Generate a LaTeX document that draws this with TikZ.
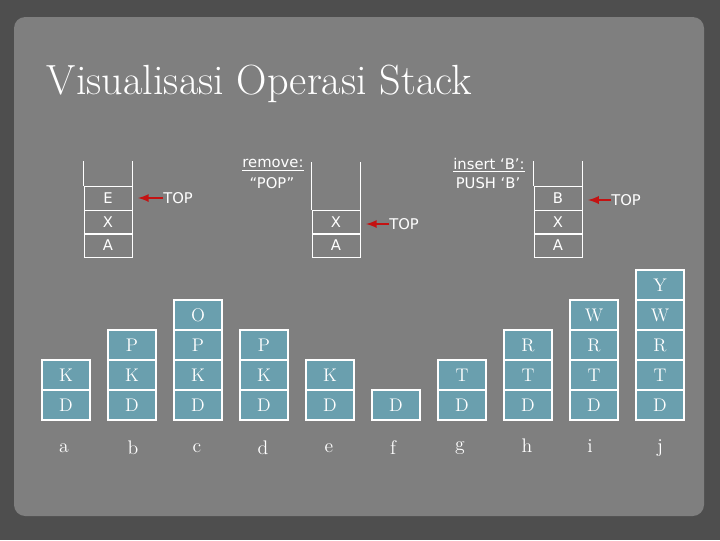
\documentclass[tikz,border=0pt]{standalone}
\usepackage{fontspec}
\usetikzlibrary{arrows}
\usetikzlibrary{shapes}
\newfontfamily\boxfont{DejaVu Sans}
\definecolor{panelGray}{RGB}{127,127,127}
\definecolor{frameGray}{RGB}{78,78,78}
\definecolor{cellTeal}{RGB}{106,159,174}
\definecolor{topRed}{RGB}{196,18,18}

\begin{document}
\begin{tikzpicture}[x = 0.025cm, y = -0.025cm]
	\tikzstyle{emptyCell}=[shape = rectangle, minimum width = 1.2cm, minimum height = 0.6cm, inner sep = 0pt, draw = white, line width = 0.6pt, text = white, font = \boxfont\fontsize{10.5}{12}\selectfont]
	\tikzstyle{fullCell}=[shape = rectangle, minimum width = 1.2cm, minimum height = 0.75cm, inner sep = 0pt, draw = white, fill = cellTeal, line width = 0.9pt, text = white, font = \fontsize{13}{15}\selectfont]
	\tikzstyle{wall}=[draw = white, line width = 0.6pt]
	\tikzstyle{topArrow}=[draw = topRed, line width = 1.6pt, -latex, shorten >= 4pt]
	\tikzstyle{sansText}=[text = white, inner sep = 0pt, font = \boxfont\fontsize{10.5}{12}\selectfont]
	\tikzstyle{stackName}=[text = white, font = \fontsize{14}{16}\selectfont]
	% background
	\useasboundingbox (0,0) rectangle (720,540);
	\fill[frameGray] (0,0) rectangle (720,540);
	\fill[panelGray, rounded corners = 8] (14,17) rectangle (704,516);
	\node[anchor = base west, text = white, font = \fontsize{30}{34}\selectfont] (title) at (42,94) {Visualisasi Operasi Stack};
	% stack before
	\node[emptyCell] (s1e) at (108,198.5) {E};
	\node[emptyCell] (s1x) at (108,222) {X};
	\node[emptyCell] (s1a) at (108,245.5) {A};
	\draw[wall] (s1e.north west) -- ++(0,-25);
	\draw[wall] (s1e.north east) -- ++(0,-25);
	\node[sansText, anchor = west] (top1) at (163,198) {TOP};
	\draw[topArrow] (top1.west) -- (top1.west -| s1e.east);
	% after pop
	\node[sansText] (rem1) at (273,165) {\underline{remove:}};
	\node[sansText] (rem2) at (272,183) {“POP”};
	\node[emptyCell] (s2x) at (336,222) {X};
	\node[emptyCell] (s2a) at (336,245.5) {A};
	\draw[wall] (s2x.north west) -- ++(0,-48);
	\draw[wall] (s2x.north east) -- ++(0,-48);
	\node[sansText, anchor = west] (top2) at (389,224) {TOP};
	\draw[topArrow] (top2.west) -- (top2.west -| s2x.east);
	% after push
	\node[sansText] (ins1) at (489,165) {\underline{insert ‘B’:}};
	\node[sansText] (ins2) at (488,183) {PUSH ‘B’};
	\node[emptyCell] (s3b) at (558,198.5) {B};
	\node[emptyCell] (s3x) at (558,222) {X};
	\node[emptyCell] (s3a) at (558,245.5) {A};
	\draw[wall] (s3b.north west) -- ++(0,-25);
	\draw[wall] (s3b.north east) -- ++(0,-25);
	\node[sansText, anchor = west] (top3) at (611,200) {TOP};
	\draw[topArrow] (top3.west) -- (top3.west -| s3b.east);
	% stacks a - j
	\node[fullCell] (a1) at (66,405) {D};
	\node[fullCell] (a2) at (66,375) {K};
	\node[fullCell] (b1) at (132,405) {D};
	\node[fullCell] (b2) at (132,375) {K};
	\node[fullCell] (b3) at (132,345) {P};
	\node[fullCell] (c1) at (198,405) {D};
	\node[fullCell] (c2) at (198,375) {K};
	\node[fullCell] (c3) at (198,345) {P};
	\node[fullCell] (c4) at (198,315) {O};
	\node[fullCell] (d1) at (264,405) {D};
	\node[fullCell] (d2) at (264,375) {K};
	\node[fullCell] (d3) at (264,345) {P};
	\node[fullCell] (e1) at (330,405) {D};
	\node[fullCell] (e2) at (330,375) {K};
	\node[fullCell] (f1) at (396,405) {D};
	\node[fullCell] (g1) at (462,405) {D};
	\node[fullCell] (g2) at (462,375) {T};
	\node[fullCell] (h1) at (528,405) {D};
	\node[fullCell] (h2) at (528,375) {T};
	\node[fullCell] (h3) at (528,345) {R};
	\node[fullCell] (i1) at (594,405) {D};
	\node[fullCell] (i2) at (594,375) {T};
	\node[fullCell] (i3) at (594,345) {R};
	\node[fullCell] (i4) at (594,315) {W};
	\node[fullCell] (j1) at (660,405) {D};
	\node[fullCell] (j2) at (660,375) {T};
	\node[fullCell] (j3) at (660,345) {R};
	\node[fullCell] (j4) at (660,315) {W};
	\node[fullCell] (j5) at (660,285) {Y};
	\node[stackName] (la) at (64,448) {a};
	\node[stackName] (lb) at (133,448) {b};
	\node[stackName] (lc) at (197,448) {c};
	\node[stackName] (ld) at (263,448) {d};
	\node[stackName] (le) at (329,448) {e};
	\node[stackName] (lf) at (393,448) {f};
	\node[stackName] (lg) at (460,448) {g};
	\node[stackName] (lh) at (527,446) {h};
	\node[stackName] (li) at (590,446) {i};
	\node[stackName] (lj) at (660,448) {j};
\end{tikzpicture}
\end{document}
